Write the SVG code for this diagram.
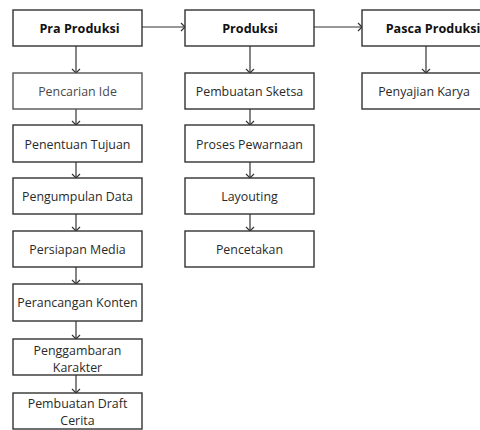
<svg xmlns="http://www.w3.org/2000/svg" width="480" height="430" viewBox="0 0 480 430">
<style>
.b{fill:#fff;stroke:#333;stroke-width:1.4}
.t{font-family:"Open Sans","Liberation Sans",sans-serif;font-size:12.4px;fill:#2a2a2a;text-anchor:middle;dominant-baseline:central}
.h{font-weight:bold;font-size:12.6px;fill:#111}
.c{fill:none;stroke:#333;stroke-width:1.2}
</style>
<defs>
<marker id="a" markerUnits="userSpaceOnUse" markerWidth="10" markerHeight="10" refX="5" refY="5" orient="auto" overflow="visible">
<path d="M1,1 L5,5 L1,9" fill="none" stroke="#333" stroke-width="1.2"/>
</marker>
</defs>
<rect width="480" height="430" fill="#fff"/>
<g id="connectors">
<line class="c" x1="142" y1="27" x2="185" y2="27" marker-end="url(#a)"/>
<line class="c" x1="314" y1="27" x2="362" y2="27" marker-end="url(#a)"/>
<line class="c" x1="76" y1="46" x2="76" y2="73" marker-end="url(#a)"/>
<line class="c" x1="76" y1="109" x2="76" y2="125" marker-end="url(#a)"/>
<line class="c" x1="76" y1="162" x2="76" y2="178" marker-end="url(#a)"/>
<line class="c" x1="76" y1="214" x2="76" y2="231" marker-end="url(#a)"/>
<line class="c" x1="76" y1="267" x2="76" y2="284" marker-end="url(#a)"/>
<line class="c" x1="76" y1="321" x2="76" y2="339" marker-end="url(#a)"/>
<line class="c" x1="76" y1="375" x2="76" y2="393" marker-end="url(#a)"/>
<line class="c" x1="250" y1="46" x2="250" y2="73" marker-end="url(#a)"/>
<line class="c" x1="250" y1="109" x2="250" y2="125" marker-end="url(#a)"/>
<line class="c" x1="250" y1="162" x2="250" y2="178" marker-end="url(#a)"/>
<line class="c" x1="250" y1="214" x2="250" y2="231" marker-end="url(#a)"/>
<line class="c" x1="426" y1="46" x2="426" y2="73" marker-end="url(#a)"/>
</g>
<g id="pra-produksi"><rect class="b" x="13" y="10" width="129" height="36"/><text class="t h" x="79.5" y="28">Pra Produksi</text></g>
<g id="produksi"><rect class="b" x="185" y="10" width="129" height="36"/><text class="t h" x="250" y="28">Produksi</text></g>
<g id="pasca-produksi"><rect class="b" x="362" y="10" width="130" height="36"/><text class="t h" x="433" y="28">Pasca Produksi</text></g>
<g id="pencarian-ide"><rect class="b" x="13" y="73" width="129" height="36" style="stroke:#555"/><text class="t" x="77.5" y="91" style="fill:#4a4a4a">Pencarian Ide</text></g>
<g id="penentuan-tujuan"><rect class="b" x="13" y="125" width="129" height="37"/><text class="t" x="77.5" y="144">Penentuan Tujuan</text></g>
<g id="pengumpulan-data"><rect class="b" x="13" y="178" width="129" height="36"/><text class="t" x="77.5" y="196">Pengumpulan Data</text></g>
<g id="persiapan-media"><rect class="b" x="13" y="231" width="129" height="36"/><text class="t" x="77.5" y="249">Persiapan Media</text></g>
<g id="perancangan-konten"><rect class="b" x="13" y="284" width="129" height="37"/><text class="t" x="77.5" y="302.5">Perancangan Konten</text></g>
<g id="penggambaran-karakter"><rect class="b" x="13" y="339" width="129" height="36"/><text class="t" x="77.5" y="350">Penggambaran</text><text class="t" x="77.5" y="367">Karakter</text></g>
<g id="pembuatan-draft-cerita"><rect class="b" x="13" y="393" width="129" height="36"/><text class="t" x="77.5" y="403">Pembuatan Draft</text><text class="t" x="77.5" y="420.5">Cerita</text></g>
<g id="pembuatan-sketsa"><rect class="b" x="185" y="73" width="129" height="36"/><text class="t" x="249.5" y="91">Pembuatan Sketsa</text></g>
<g id="proses-pewarnaan"><rect class="b" x="185" y="125" width="129" height="37"/><text class="t" x="249.5" y="144">Proses Pewarnaan</text></g>
<g id="layouting"><rect class="b" x="185" y="178" width="129" height="36"/><text class="t" x="249.5" y="196">Layouting</text></g>
<g id="pencetakan"><rect class="b" x="185" y="231" width="129" height="36"/><text class="t" x="249.5" y="249">Pencetakan</text></g>
<g id="penyajian-karya"><rect class="b" x="362" y="73" width="130" height="36"/><text class="t" x="424" y="91">Penyajian Karya</text></g>
</svg>
